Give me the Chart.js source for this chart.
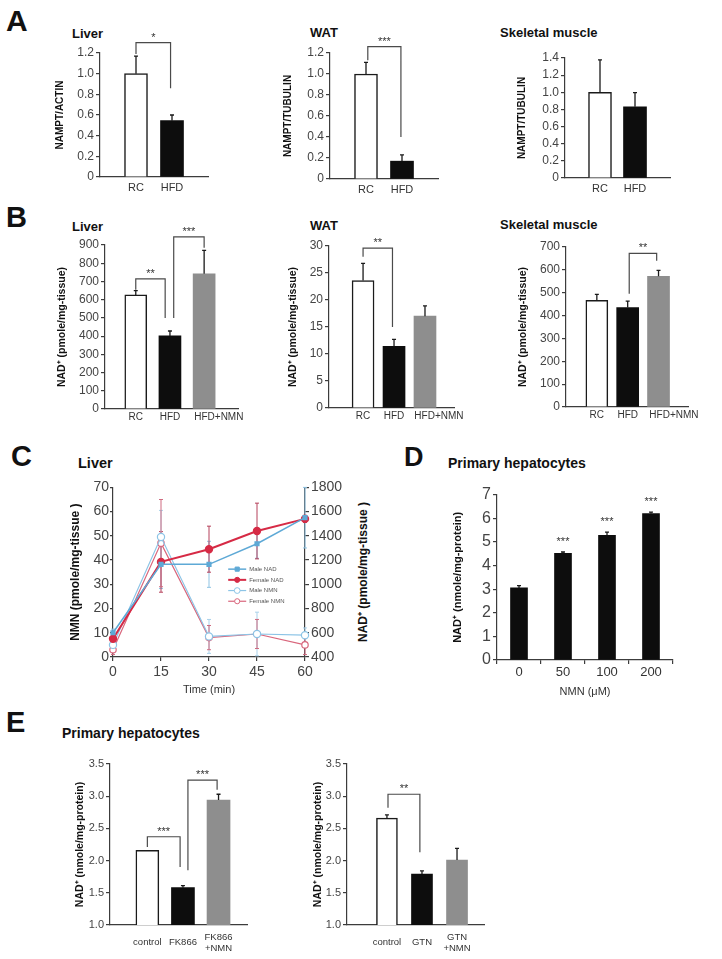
<!DOCTYPE html>
<html>
<head>
<meta charset="utf-8">
<title>NAMPT and NAD+ panels</title>
<script src="https://cdn.jsdelivr.net/npm/chart.js@4.4.1/dist/chart.umd.min.js"></script>
<style>
  html, body { margin: 0; padding: 0; background: #fff; }
  body { position: relative; width: 722px; height: 959px; overflow: hidden; font-family: 'Liberation Sans', Arial, sans-serif; }
  canvas { position: absolute; }
  .lbl { position: absolute; font-weight: bold; color: #111; line-height: 1; white-space: nowrap; }
  .rot { position: absolute; font-weight: bold; color: #111; line-height: 1; white-space: nowrap; transform: translate(-50%, -50%) rotate(-90deg); }
</style>
</head>
<body>
<script>
// ---- A: NAMPT protein (RC vs HFD)
const catsDiet = ['RC', 'HFD'];
const namptLiver = [1.0, 0.545];
const namptLiverErr = [0.17, 0.055];
const namptWat = [1.0, 0.17];
const namptWatErr = [0.11, 0.06];
const namptMuscle = [1.0, 0.83];
const namptMuscleErr = [0.377, 0.165];

// ---- B: tissue NAD+
const catsNmn = ['RC', 'HFD', 'HFD+NMN'];
const nadLiver = [626, 401, 742];
const nadLiverErr = [24, 27, 128];
const nadWat = [23.6, 11.4, 17.0];
const nadWatErr = [3.2, 1.3, 1.9];
const nadMuscle = [467, 435, 572];
const nadMuscleErr = [26, 28, 26];

// ---- C: liver time course
const timeMin = [0, 15, 30, 45, 60];
const maleNad = [600, 1165, 1165, 1335, 1550];
const maleNadErr = [30, 200, 190, 120, 250];
const femaleNad = [550, 1185, 1290, 1440, 1540];
const femaleNadErr = [30, 250, 190, 230, 30];
const maleNmn = [5, 49.5, 8.5, 9.5, 9];
const maleNmnErr = [2, 11, 7, 9, 3];
const femaleNmn = [3, 47, 8, 9.5, 5];
const femaleNmnErr = [2, 18, 5, 6, 4];

// ---- D: dose response
const nmnDose = ['0', '50', '100', '200'];
const nadDose = [3.05, 4.51, 5.28, 6.2];
const nadDoseErr = [0.1, 0.06, 0.13, 0.06];
const doseStars = ['', '***', '***', '***'];

// ---- E: inhibitors
const catsFk = ['control', 'FK866', ['FK866', '+NMN']];
const nadFk = [2.16, 1.58, 2.94];
const nadFkErr = [0, 0.03, 0.09];
const catsGtn = ['control', 'GTN', ['GTN', '+NMN']];
const nadGtn = [2.66, 1.79, 2.01];
const nadGtnErr = [0.05, 0.05, 0.18];

const FONT = "'Liberation Sans', Arial, Helvetica, sans-serif";
const AX = '#3c3c3c';
const WHITE = '#ffffff', BLACK = '#0d0d0d', GRAY = '#8e8e8e', EDGE = '#1a1a1a';
Chart.defaults.font.family = FONT;

// error bars, significance brackets, stars, inline legend
const marks = {
  id: 'marks',
  beforeDatasetsDraw(chart, args, o) { if (o.twoSided) drawErrors(chart, o); },
  afterDatasetsDraw(chart, args, o) {
    if (!o.twoSided) drawErrors(chart, o);
    const ctx = chart.ctx, xs = chart.scales.x, ys = chart.scales.y;
    ctx.save();
    ctx.strokeStyle = '#4a4a4a';
    ctx.lineWidth = 1.2;
    ctx.fillStyle = '#333';
    ctx.font = '11px ' + FONT;
    ctx.textAlign = 'center';
    ctx.textBaseline = 'alphabetic';
    (o.brackets || []).forEach(b => {
      const x1 = xs.getPixelForValue(b.x1), x2 = xs.getPixelForValue(b.x2);
      const yt = ys.getPixelForValue(b.top);
      ctx.beginPath();
      ctx.moveTo(x1, ys.getPixelForValue(b.y1));
      ctx.lineTo(x1, yt);
      ctx.lineTo(x2, yt);
      ctx.lineTo(x2, ys.getPixelForValue(b.y2));
      ctx.stroke();
      ctx.fillText(b.text, (x1 + x2) / 2, yt - 2);
    });
    if (o.stars) {
      const ds = chart.data.datasets[0];
      chart.getDatasetMeta(0).data.forEach((el, j) => {
        if (!o.stars[j]) return;
        const top = ys.getPixelForValue(ds.data[j] + ds.err[j]);
        ctx.fillText(o.stars[j], el.x, top - 7);
      });
    }
    ctx.restore();
    if (o.legend) drawLegend(chart, o.legend);
  }
};

function drawErrors(chart, o) {
  const ctx = chart.ctx;
  ctx.save();
  chart.data.datasets.forEach((ds, i) => {
    if (!ds.err) return;
    const meta = chart.getDatasetMeta(i);
    const ys = chart.scales[meta.yAxisID];
    ctx.strokeStyle = ds.errColor || '#1a1a1a';
    ctx.lineWidth = ds.errWidth || 1.3;
    meta.data.forEach((el, j) => {
      const e = ds.err[j];
      if (!e) return;
      const v = typeof ds.data[j] === 'object' ? ds.data[j].y : ds.data[j];
      const top = ys.getPixelForValue(v + e);
      const bot = o.twoSided ? ys.getPixelForValue(v - e) : el.y;
      const cap = o.cap || 2;
      ctx.beginPath();
      ctx.moveTo(el.x, bot);
      ctx.lineTo(el.x, top);
      ctx.moveTo(el.x - cap, top);
      ctx.lineTo(el.x + cap, top);
      if (o.twoSided) {
        ctx.moveTo(el.x - cap, bot);
        ctx.lineTo(el.x + cap, bot);
      }
      ctx.stroke();
    });
  });
  ctx.restore();
}

function drawLegend(chart, lg) {
  const {ctx, chartArea: ca} = chart;
  const x0 = ca.left + lg.x * (ca.right - ca.left);
  let y = ca.top + lg.y * (ca.bottom - ca.top);
  ctx.save();
  ctx.font = lg.fs + 'px ' + FONT;
  ctx.textBaseline = 'middle';
  ctx.textAlign = 'left';
  chart.data.datasets.forEach(ds => {
    ctx.strokeStyle = ds.borderColor;
    ctx.lineWidth = ds.borderWidth;
    ctx.beginPath();
    ctx.moveTo(x0, y);
    ctx.lineTo(x0 + lg.len, y);
    ctx.stroke();
    const r = ds.pointRadius * 0.8, cx = x0 + lg.len / 2;
    ctx.fillStyle = ds.pointBackgroundColor;
    ctx.strokeStyle = ds.pointBorderColor;
    ctx.lineWidth = 1;
    ctx.beginPath();
    if (ds.pointStyle === 'rect') ctx.rect(cx - r, y - r, 2 * r, 2 * r);
    else ctx.arc(cx, y, r, 0, Math.PI * 2);
    ctx.fill();
    ctx.stroke();
    ctx.fillStyle = '#555';
    ctx.fillText(ds.label, x0 + lg.len + 3, y);
    y += lg.dy;
  });
  ctx.restore();
}

function place(box) {
  const cv = document.createElement('canvas');
  const W = Math.round(box.yW + (box.r - box.l) + (box.yW2 || 0) + (box.padR || 0));
  const H = Math.round(box.padTop + (box.b - box.t) + box.xH);
  cv.width = W;
  cv.height = H;
  cv.style.left = (box.l - box.yW) + 'px';
  cv.style.top = (box.t - box.padTop) + 'px';
  document.body.appendChild(cv);
  return cv;
}

function yAxis(o) {
  return {
    type: 'linear', position: o.position || 'left', min: o.min, max: o.max,
    afterFit: s => { s.width = o.width; },
    border: {color: AX, width: 1.2},
    grid: {display: true, drawOnChartArea: false, drawTicks: true, tickLength: o.tickLen || 4, color: AX, lineWidth: 1.2},
    ticks: {
      stepSize: o.step, padding: o.pad ?? 2, color: '#444', font: {size: o.fs}, autoSkip: false,
      callback: v => Math.abs(v) < 1e-9 ? '0' : v.toFixed(o.dec || 0)
    },
    title: o.title
      ? {display: true, text: o.title, color: '#111', padding: 0, font: {size: o.titleFs, weight: 'bold'}}
      : {display: false}
  };
}

function text(str, x, capTop, fs) {
  const d = document.createElement('div');
  d.className = 'lbl';
  d.textContent = str;
  d.style.left = x + 'px';
  d.style.top = (capTop - 0.13 * fs) + 'px';
  d.style.fontSize = fs + 'px';
  document.body.appendChild(d);
}

function barChart(box, o) {
  const cv = place(box);
  const shift = o.labelShift || [];
  const xs = o.category
    ? {
        type: 'category', offset: true,
        afterFit: s => { s.height = box.xH; },
        border: {color: AX, width: 1.2},
        grid: {display: true, drawOnChartArea: false, offset: true, tickLength: 4, color: AX, lineWidth: 1.2},
        ticks: {padding: o.xPad, color: '#333', font: {size: o.xFs}, maxRotation: 0},
        title: o.xTitle ? {display: true, text: o.xTitle, color: '#333', padding: 0, font: {size: 11}} : {display: false}
      }
    : {
        type: 'linear', min: o.xMin, max: o.xMax, offset: false,
        afterFit: s => { s.height = box.xH; },
        afterBuildTicks: s => { s.ticks = o.cats.map((c, i) => ({value: i + 1 + (shift[i] || 0)})); },
        border: {color: AX, width: 1.2},
        grid: {display: false, drawTicks: false, tickLength: 0, offset: false},
        ticks: {
          autoSkip: false, maxRotation: 0, padding: o.xPad, color: '#333',
          font: {size: o.xFs}, crossAlign: o.crossAlign || 'near',
          callback: (v, i) => o.cats[i]
        }
      };
  const data = o.category ? o.vals : o.vals.map((v, i) => ({x: i + 1, y: v}));
  return new Chart(cv, {
    type: 'bar',
    data: {
      labels: o.category ? o.cats : undefined,
      datasets: [{
        data: data,
        err: o.errs,
        backgroundColor: o.fills,
        borderColor: o.fills.map(f => f === WHITE ? EDGE : f),
        borderWidth: o.fills.map(f => f === WHITE ? 1.5 : 0),
        borderSkipped: 'bottom',
        barThickness: o.barW
      }]
    },
    options: {
      responsive: false, animation: false, devicePixelRatio: 1,
      layout: {padding: {top: box.padTop, right: box.padR || 0, left: 0, bottom: 0}},
      plugins: {
        legend: {display: false}, tooltip: {enabled: false},
        marks: {brackets: o.brackets || [], stars: o.stars, cap: 2}
      },
      scales: {
        x: xs,
        y: yAxis({min: o.yMin || 0, max: o.yMax, step: o.yStep, dec: o.yDec, fs: o.yFs, width: box.yW,
                  title: o.yTitle, titleFs: o.yTitleFs, tickLen: 4, pad: o.yPad})
      }
    },
    plugins: [marks]
  });
}

// ---------- panel letters and titles
text('A', 6, 10, 30);
text('B', 6, 207, 29);
text('C', 11, 446, 29);
text('D', 404, 448, 27);
text('E', 6, 712, 29);

text('Liver', 72, 29, 13);
text('WAT', 310, 28, 13);
text('Skeletal muscle', 500, 28, 13);
text('Liver', 72, 222, 13);
text('WAT', 310, 221, 13);
text('Skeletal muscle', 500, 220, 13);
text('Liver', 78, 458, 14.5);
text('Primary hepatocytes', 448, 458, 14);
text('Primary hepatocytes', 62, 728, 14);

// ---------- A
barChart({l: 100, r: 208, t: 53, b: 177, yW: 46, xH: 22, padTop: 30, padR: 4}, {
  cats: catsDiet, vals: namptLiver, errs: namptLiverErr, fills: [WHITE, BLACK],
  xMin: 0, xMax: 3, barW: 23, xFs: 11, xPad: 4,
  yMax: 1.2, yStep: 0.2, yDec: 1, yFs: 12, yTitle: 'NAMPT/ACTIN', yTitleFs: 10,
  brackets: [{x1: 1, x2: 1.96, top: 1.30, y1: 1.19, y2: 0.86, text: '*'}]
});
barChart({l: 330, r: 438, t: 53, b: 179, yW: 48, xH: 22, padTop: 30, padR: 4}, {
  cats: catsDiet, vals: namptWat, errs: namptWatErr, fills: [WHITE, BLACK],
  xMin: 0, xMax: 3, barW: 23, xFs: 11, xPad: 4,
  yMax: 1.2, yStep: 0.2, yDec: 1, yFs: 12, yTitle: 'NAMPT/TUBULIN', yTitleFs: 10,
  brackets: [{x1: 1.05, x2: 1.97, top: 1.26, y1: 1.13, y2: 0.40, text: '***'}]
});
barChart({l: 565, r: 670, t: 58, b: 178, yW: 49, xH: 22, padTop: 12, padR: 4}, {
  cats: catsDiet, vals: namptMuscle, errs: namptMuscleErr, fills: [WHITE, BLACK],
  xMin: 0, xMax: 3, barW: 23, xFs: 11, xPad: 4,
  yMax: 1.4, yStep: 0.2, yDec: 1, yFs: 12, yTitle: 'NAMPT/TUBULIN', yTitleFs: 10
});

// ---------- B
barChart({l: 105, r: 242, t: 245, b: 409, yW: 49, xH: 18, padTop: 30, padR: 4}, {
  cats: catsNmn, vals: nadLiver, errs: nadLiverErr, fills: [WHITE, BLACK, GRAY],
  xMin: 0.1, xMax: 4, barW: 22, xFs: 10, xPad: 2, labelShift: [0, 0, 0.43],
  yMax: 900, yStep: 100, yFs: 12, yTitle: 'NAD⁺ (pmole/mg-tissue)', yTitleFs: 10.5,
  brackets: [
    {x1: 1, x2: 1.86, top: 714, y1: 655, y2: 500, text: '**'},
    {x1: 2.11, x2: 3, top: 945, y1: 500, y2: 885, text: '***'}
  ]
});
barChart({l: 329, r: 462, t: 246, b: 408, yW: 42, xH: 18, padTop: 12, padR: 4}, {
  cats: catsNmn, vals: nadWat, errs: nadWatErr, fills: [WHITE, BLACK, GRAY],
  xMin: -0.1, xMax: 3.95, barW: 22, xFs: 10, xPad: 2, labelShift: [0, 0, 0.45],
  yMax: 30, yStep: 5, yFs: 12, yTitle: 'NAD⁺ (pmole/mg-tissue)', yTitleFs: 10.5,
  brackets: [{x1: 1, x2: 1.95, top: 29.6, y1: 28.0, y2: 15.0, text: '**'}]
});
barChart({l: 566, r: 697, t: 247, b: 407, yW: 49, xH: 18, padTop: 12, padR: 4}, {
  cats: catsNmn, vals: nadMuscle, errs: nadMuscleErr, fills: [WHITE, BLACK, GRAY],
  xMin: 0, xMax: 3.97, barW: 22, xFs: 10, xPad: 2, labelShift: [0, 0, 0.5],
  yMax: 700, yStep: 100, yFs: 12, yTitle: 'NAD⁺ (pmole/mg-tissue)', yTitleFs: 10.5,
  brackets: [{x1: 2.05, x2: 2.94, top: 672, y1: 495, y2: 640, text: '**'}]
});

// ---------- C
(function () {
  const box = {l: 113, r: 305, t: 487, b: 657, yW: 45, yW2: 40, xH: 40, padTop: 10, padR: 0};
  const cv = place(box);
  const pts = arr => arr.map((v, i) => ({x: timeMin[i], y: v}));
  const BLUE = '#5ea9d6', RED = '#d62a45';
  new Chart(cv, {
    type: 'line',
    data: {
      datasets: [
        {label: 'Male NAD', yAxisID: 'y2', data: pts(maleNad), err: maleNadErr, errColor: '#8fc3e3', errWidth: 1,
         borderColor: BLUE, borderWidth: 1.5, pointStyle: 'rect', pointRadius: 2.6,
         pointBackgroundColor: BLUE, pointBorderColor: BLUE, clip: false},
        {label: 'Female NAD', yAxisID: 'y2', data: pts(femaleNad), err: femaleNadErr, errColor: '#b5405a', errWidth: 1,
         borderColor: RED, borderWidth: 2, pointStyle: 'circle', pointRadius: 3.2,
         pointBackgroundColor: RED, pointBorderColor: RED, clip: false},
        {label: 'Male NMN', yAxisID: 'y', data: pts(maleNmn), err: maleNmnErr, errColor: '#a9d1ea', errWidth: 1,
         borderColor: '#8cc4e6', borderWidth: 1.2, pointStyle: 'circle', pointRadius: 3.6,
         pointBackgroundColor: '#fff', pointBorderColor: '#8cc4e6', clip: false},
        {label: 'Female NMN', yAxisID: 'y', data: pts(femaleNmn), err: femaleNmnErr, errColor: '#cf6b80', errWidth: 1,
         borderColor: '#d9667c', borderWidth: 1.2, pointStyle: 'circle', pointRadius: 3.2,
         pointBackgroundColor: '#fff', pointBorderColor: '#d9667c', clip: false}
      ]
    },
    options: {
      responsive: false, animation: false, devicePixelRatio: 1,
      layout: {padding: {top: box.padTop, right: 0, left: 0, bottom: 0}},
      plugins: {
        legend: {display: false}, tooltip: {enabled: false},
        marks: {twoSided: true, cap: 2, legend: {x: 0.6, y: 0.482, dy: 10.7, len: 18, fs: 6}}
      },
      scales: {
        x: {
          type: 'linear', min: 0, max: 60,
          afterFit: s => { s.height = box.xH; },
          border: {color: AX, width: 1.2},
          grid: {display: true, drawOnChartArea: false, tickLength: 4, color: AX, lineWidth: 1.2},
          ticks: {stepSize: 15, padding: 3, color: '#444', font: {size: 14}},
          title: {display: true, text: 'Time (min)', color: '#333', padding: 0, font: {size: 11}}
        },
        y: yAxis({min: 0, max: 70, step: 10, fs: 14, width: box.yW, title: 'NMN (pmole/mg-tissue )',
                  titleFs: 12, tickLen: 3, pad: 1}),
        y2: yAxis({position: 'right', min: 400, max: 1800, step: 200, fs: 14, width: box.yW2, tickLen: 4, pad: 2})
      }
    },
    plugins: [marks]
  });
  const d = document.createElement('div');
  d.className = 'rot';
  d.textContent = 'NAD⁺ (pmole/mg-tissue )';
  d.style.fontSize = '12px';
  d.style.left = '363px';
  d.style.top = '572px';
  document.body.appendChild(d);
})();

// ---------- D
barChart({l: 497, r: 673, t: 493, b: 660, yW: 46, xH: 39, padTop: 10, padR: 4}, {
  category: true, cats: nmnDose, vals: nadDose, errs: nadDoseErr, fills: [BLACK, BLACK, BLACK, BLACK],
  barW: 17, xFs: 13, xPad: 1, xTitle: 'NMN (μM)',
  yMax: 7, yStep: 1, yFs: 16, yTitle: 'NAD⁺ (nmole/mg-protein)', yTitleFs: 11,
  stars: doseStars
});

// ---------- E
barChart({l: 110, r: 247, t: 764, b: 925, yW: 36, xH: 32, padTop: 10, padR: 4}, {
  cats: catsFk, vals: nadFk, errs: nadFkErr, fills: [WHITE, BLACK, GRAY],
  xMin: -0.05, xMax: 3.8, barW: 23, xFs: 9.5, xPad: 12, crossAlign: 'center',
  yMin: 1, yMax: 3.5, yStep: 0.5, yDec: 1, yFs: 11, yTitle: 'NAD⁺ (nmole/mg-protein)', yTitleFs: 10.5,
  brackets: [
    {x1: 1, x2: 1.92, top: 2.37, y1: 2.21, y2: 1.9, text: '***'},
    {x1: 2.14, x2: 2.96, top: 3.25, y1: 1.85, y2: 3.1, text: '***'}
  ]
});
barChart({l: 347, r: 484, t: 764, b: 925, yW: 35, xH: 32, padTop: 10, padR: 4}, {
  cats: catsGtn, vals: nadGtn, errs: nadGtnErr, fills: [WHITE, BLACK, GRAY],
  xMin: -0.14, xMax: 3.77, barW: 21, xFs: 9.5, xPad: 12, crossAlign: 'center',
  yMin: 1, yMax: 3.5, yStep: 0.5, yDec: 1, yFs: 11, yTitle: 'NAD⁺ (nmole/mg-protein)', yTitleFs: 10.5,
  brackets: [{x1: 1.03, x2: 1.94, top: 3.03, y1: 2.82, y2: 2.13, text: '**'}]
});
</script>
</body>
</html>
